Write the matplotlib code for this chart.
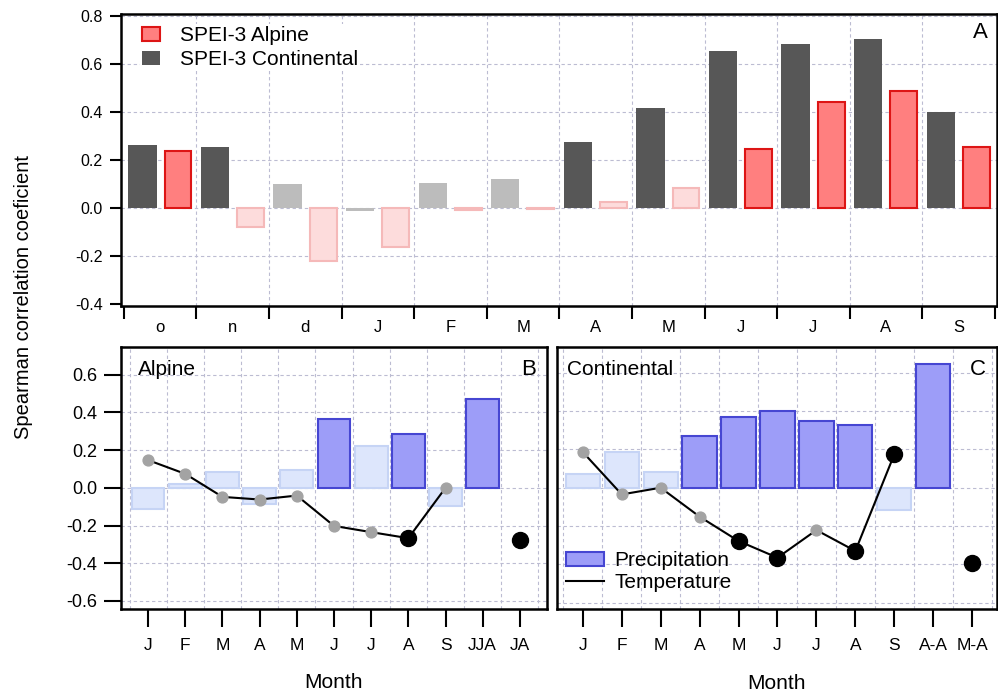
import matplotlib
matplotlib.use("Agg")
import matplotlib.pyplot as plt
from matplotlib.patches import Patch
from matplotlib.lines import Line2D
import numpy as np

plt.rcParams['font.family'] = ['Liberation Sans', 'DejaVu Sans']

# ---------------- Data ----------------
months_a = ['o', 'n', 'd', 'J', 'F', 'M', 'A', 'M', 'J', 'J', 'A', 'S']
spei_continental = [0.262, 0.255, 0.100, -0.011, 0.105, 0.121, 0.276, 0.418, 0.654, 0.683, 0.703, 0.398]
spei_alpine = [0.236, -0.081, -0.222, -0.164, -0.008, -0.006, 0.025, 0.083, 0.246, 0.443, 0.489, 0.254]
sig_continental = [1, 1, 0, 0, 0, 0, 1, 1, 1, 1, 1, 1]
sig_alpine = [1, 0, 0, 0, 0, 0, 0, 0, 1, 1, 1, 1]

months_b = ['J', 'F', 'M', 'A', 'M', 'J', 'J', 'A', 'S', 'JJA', 'JA']
prec_alpine = [-0.111, 0.023, 0.085, -0.087, 0.092, 0.365, 0.221, 0.285, -0.096, 0.471, None]
prec_alpine_sig = [0, 0, 0, 0, 0, 1, 0, 1, 0, 1, 0]
temp_alpine = [0.147, 0.074, -0.048, -0.062, -0.041, -0.202, -0.235, -0.267, 0.0, None, -0.278]
temp_alpine_sig = [0, 0, 0, 0, 0, 0, 0, 1, 0, 0, 1]

months_c = ['J', 'F', 'M', 'A', 'M', 'J', 'J', 'A', 'S', 'A-A', 'M-A']
prec_cont = [0.073, 0.184, 0.080, 0.271, 0.369, 0.400, 0.346, 0.325, -0.117, 0.645, None]
prec_cont_sig = [0, 0, 0, 1, 1, 1, 1, 1, 0, 1, 0]
temp_cont = [0.186, -0.035, 0.0, -0.151, -0.278, -0.365, -0.221, -0.330, 0.174, None, -0.395]
temp_cont_sig = [0, 0, 0, 0, 1, 1, 0, 1, 1, 0, 1]

# ---------------- Styles ----------------
GRID = dict(color='#bcbcd2', linestyle=(0, (3, 2.5)), linewidth=0.8)
CONT_DARK = '#575757'
CONT_LIGHT = '#bcbcbc'
ALP_FACE, ALP_EDGE = '#ff7f7f', '#dd1515'
ALP_LFACE, ALP_LEDGE = '#fddcdc', '#f5b9b9'
P_FACE, P_EDGE = '#9d9df8', '#4646d2'
P_LFACE, P_LEDGE = '#dde6fc', '#c6d4f5'
GREY_M = '#a3a3a3'
NARROW = ['Liberation Sans Narrow', 'Liberation Sans', 'DejaVu Sans']

W, H = 998, 695
fig = plt.figure(figsize=(W / 100, H / 100), dpi=100)


def ax_rect(l, r, t, b):
    return [l / W, 1 - b / H, (r - l) / W, (b - t) / H]


# ---------------- Panel A ----------------
axA = fig.add_axes(ax_rect(121, 997, 14, 306))
axA.set_xlim(-0.04, 12.03)
axA.set_ylim(-0.408, 0.808)
xa = np.arange(len(months_a))
for i in range(len(months_a)):
    c = CONT_DARK if sig_continental[i] else CONT_LIGHT
    axA.bar(xa[i] + 0.255, spei_continental[i], width=0.39, color=c,
            edgecolor='none', zorder=3)
    if sig_alpine[i]:
        fc, ec = ALP_FACE, ALP_EDGE
    else:
        fc, ec = ALP_LFACE, ALP_LEDGE
    axA.bar(xa[i] + 0.745, spei_alpine[i], width=0.37, color=fc,
            edgecolor=ec, linewidth=1.5, zorder=3)
yt_a = np.arange(-0.4, 0.81, 0.2)
axA.set_yticks(yt_a)
axA.set_yticklabels([f'{v:.1f}' for v in yt_a])
axA.set_xticks(np.arange(0, 13))
axA.set_xticklabels([])
axA.set_xticks(xa + 0.5, minor=True)
axA.set_xticklabels(months_a, minor=True)
axA.tick_params(axis='x', which='major', direction='out', length=9, width=1.5)
axA.tick_params(axis='x', which='minor', length=0, pad=10, labelsize=12)
axA.tick_params(axis='y', direction='out', length=8, width=1.5, pad=5, labelsize=11.5)
for v in np.arange(-0.2, 0.81, 0.2):
    axA.axhline(v, zorder=1, **GRID)
for k in range(1, 12):
    axA.axvline(k, zorder=1, **GRID)
for s in axA.spines.values():
    s.set_linewidth(1.8)
axA.text(0.989, 0.935, 'A', transform=axA.transAxes, ha='right', va='center',
         fontsize=16, family=NARROW)
hA = [Patch(facecolor=ALP_FACE, edgecolor=ALP_EDGE, linewidth=1.5, label='SPEI-3 Alpine'),
      Patch(facecolor=CONT_DARK, edgecolor='none', label='SPEI-3 Continental')]
legA = axA.legend(handles=hA, loc='upper left', bbox_to_anchor=(0.007, 1.009),
                  fontsize=15, frameon=True, handlelength=0.9, handleheight=0.65,
                  handletextpad=0.95, borderpad=0.1, borderaxespad=0.6,
                  labelspacing=0.25, fancybox=False)
legA.get_frame().set_edgecolor('none')
legA.get_frame().set_facecolor('white')
legA.get_frame().set_alpha(1)
legA.set_zorder(2)


# ---------------- Panels B and C ----------------
def lower_panel(rect, xlim, ylim, labels, prec, prec_sig, temp, temp_sig,
                name, name_x, letter, show_y):
    ax = fig.add_axes(rect)
    ax.set_xlim(*xlim)
    ax.set_ylim(*ylim)
    x = np.arange(len(labels))
    for i in range(len(labels)):
        if prec[i] is None:
            continue
        if prec_sig[i]:
            fc, ec = P_FACE, P_EDGE
        else:
            fc, ec = P_LFACE, P_LEDGE
        ax.bar(x[i], prec[i], width=0.88, color=fc, edgecolor=ec,
               linewidth=1.5, zorder=3)
    # temperature line over the nine single months
    tx = [x[i] for i in range(9)]
    ty = [temp[i] for i in range(9)]
    ax.plot(tx, ty, color='black', linewidth=1.5, zorder=4)
    for i in range(len(labels)):
        if temp[i] is None:
            continue
        if temp_sig[i]:
            ax.plot(x[i], temp[i], 'o', color='black', markersize=11.5, zorder=5)
        else:
            ax.plot(x[i], temp[i], 'o', color=GREY_M, markersize=7.8, zorder=5)
    for v in np.arange(-0.6, 0.61, 0.2):
        ax.axhline(v, zorder=1, **GRID)
    for k in range(len(labels) + 1):
        ax.axvline(k - 0.5, zorder=1, **GRID)
    ax.set_xticks(x)
    ax.set_xticklabels(labels)
    ax.tick_params(axis='x', direction='out', length=13, width=1.5, pad=8, labelsize=12.5)
    if show_y:
        yt = np.arange(-0.6, 0.61, 0.2)
        ax.set_yticks(yt)
        ax.set_yticklabels([f'{v:.1f}' for v in yt])
        ax.tick_params(axis='y', direction='out', length=12, width=1.5, pad=5, labelsize=13)
    else:
        ax.set_yticks([])
    for s in ax.spines.values():
        s.set_linewidth(1.8)
    ax.text(name_x, 0.915, name, transform=ax.transAxes, ha='left', va='center', fontsize=15)
    ax.text(0.975, 0.915, letter, transform=ax.transAxes, ha='right', va='center',
            fontsize=16, family=NARROW)
    ax.set_xlabel('Month', fontsize=15, labelpad=15, family=NARROW)
    return ax


axB = lower_panel(ax_rect(121, 547, 347, 608.5), (-0.73, 10.73), (-0.64, 0.747),
                  months_b, prec_alpine, prec_alpine_sig, temp_alpine, temp_alpine_sig,
                  'Alpine', 0.04, 'B', True)
axC = lower_panel(ax_rect(556.7, 996.7, 347, 608.7), (-0.67, 10.63), (-0.631, 0.734),
                  months_c, prec_cont, prec_cont_sig, temp_cont, temp_cont_sig,
                  'Continental', 0.024, 'C', False)

hC = [Patch(facecolor=P_FACE, edgecolor=P_EDGE, linewidth=1.5, label='Precipitation'),
      Line2D([0], [0], color='black', linewidth=1.5, label='Temperature')]
axC.legend(handles=hC, loc='lower left', bbox_to_anchor=(-0.011, 0.008), fontsize=15,
           frameon=False, handlelength=1.8, handleheight=0.65, handletextpad=0.5,
           borderaxespad=0.3, labelspacing=0.15)

fig.text(24 / W, 1 - 297 / H, 'Spearman correlation coeficient', rotation=90,
         ha='center', va='center', fontsize=14.5)

fig.savefig('out.png', dpi=100)
